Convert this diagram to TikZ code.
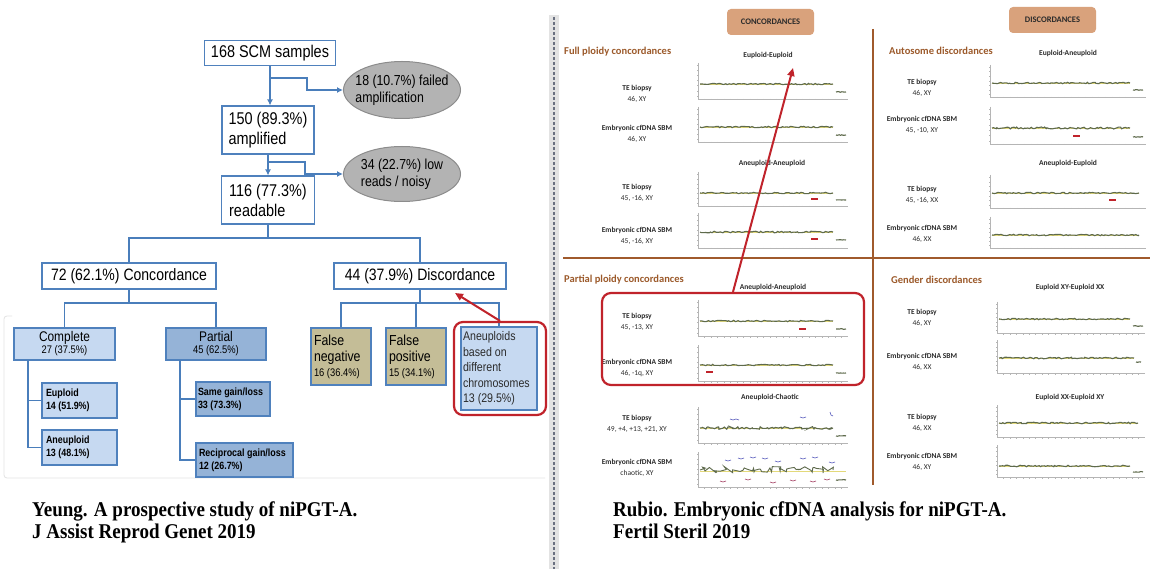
\documentclass[tikz,border=0pt]{standalone}
\usepackage{fontspec}
\usepackage{graphicx}
\setmainfont[FakeStretch=0.85]{Liberation Sans}
\newfontfamily\carl{Carlito}
\newfontfamily\captfont[FakeStretch=0.905]{Liberation Serif}
\usetikzlibrary{shapes.geometric,arrows.meta,calc,decorations.pathmorphing}
\definecolor{flowblue}{HTML}{4A7EBB}
\definecolor{boxblue}{HTML}{4F81BD}
\definecolor{lightblue}{HTML}{C6D9F1}
\definecolor{midblue}{HTML}{95B3D7}
\definecolor{khaki}{HTML}{C4BD97}
\definecolor{ellgray}{HTML}{B3B3B3}
\definecolor{ellborder}{HTML}{8C8C8C}
\definecolor{redc}{HTML}{C0232B}
\definecolor{brownc}{HTML}{9C5A2B}
\definecolor{divbrown}{HTML}{A05A2C}
\definecolor{badgec}{HTML}{D9A27C}
\definecolor{darktext}{HTML}{2B2B2B}
\definecolor{axisc}{HTML}{B5B5B5}
\definecolor{tracec}{HTML}{5E6A4C}
\definecolor{basec}{HTML}{E3D97A}
\definecolor{bluemark}{HTML}{4B4FB8}
\definecolor{dashc}{HTML}{6A7080}
\newcommand{\fsz}[2]{\fontsize{#1}{#2}\selectfont}
\newcommand{\cnvaxes}[4]{%
  \draw[axisc, line width=0.6pt] (#1,#2) -- (#1,#2+#4) -- (#1+#3,#2+#4);
  \foreach \k in {0,...,6} \draw[axisc, line width=0.4pt] (#1,#2+2+\k*#4/7) -- ++(-1.5,0);
  \foreach \k in {1,...,22} \draw[axisc, line width=0.4pt] (#1+\k*#3/23,#2+#4) -- ++(0,1.5);
}
\newcommand{\cnvtrace}[4]{%
  \draw[basec, line width=0.6pt] (#1,#3) -- (#2,#3);
  \draw[tracec, line width=1.1pt, decorate, decoration={random steps, segment length=1.8pt, amplitude=#4}] (#1,#3) -- (#2,#3);
}
\newcommand{\cnvend}[3]{%
  \draw[tracec, line width=1.1pt, decorate, decoration={random steps, segment length=1.5pt, amplitude=0.4pt}] (#1,#3) -- (#2,#3);
}
\tikzset{
 flowline/.style={draw=flowblue, line width=1.8pt},
 flowarrow/.style={flowline, -{Latex[length=6pt,width=6pt]}},
 wbox/.style={draw=boxblue, line width=1.1pt, fill=white, inner sep=3pt, font=\fsz{17}{20}},
 ellbox/.style={ellipse, draw=ellborder, line width=1pt, fill=ellgray, inner xsep=-6pt, inner ysep=0pt, align=left, font=\fsz{14.5}{17}},
 cbox/.style={draw=boxblue, line width=1.1pt, fill=lightblue, inner sep=2pt},
 pbox/.style={draw=boxblue, line width=1.1pt, fill=midblue, inner sep=2pt},
 kbox/.style={draw=boxblue, line width=1.1pt, fill=khaki, inner sep=3pt},
 redframe/.style={draw=redc, line width=2.2pt, rounded corners=9pt},
 redarrow/.style={draw=redc, line width=2pt, -{Triangle[length=8pt,width=7pt]}},
 badge/.style={fill=badgec, rounded corners=4pt, font={\carl\bfseries\fsz{8.5}{10}}, text=darktext},
 heading/.style={font={\carl\bfseries\fsz{10.5}{12}}, text=brownc, inner sep=0pt},
 subttl/.style={font={\carl\bfseries\fsz{7.5}{9}}, text=darktext, inner sep=0pt},
 samp/.style={font={\carl\fsz{7.5}{11}}, text=darktext, align=center, inner sep=0pt},
 capt/.style={font={\captfont\bfseries\fsz{21}{23}}, inner sep=0pt, text=black},
 lossred/.style={draw=redc, line width=1.6pt},
}
\begin{document}
\pgfmathsetseed{11}
\begin{tikzpicture}[x=1pt,y=-1pt]
\useasboundingbox (0,0) rectangle (1159,569);
\fill[white] (0,0) rectangle (1159,569);

%% ---------------- left flowchart ----------------
\draw[gray!22, line width=0.8pt, rounded corners=3pt] (12,316) -- (4,316) -- (4,478) -- (545,478);

\node[wbox, minimum width=131pt, minimum height=25pt] (n168) at (270,53) {168 SCM samples};
\node[wbox, minimum width=92pt, minimum height=48pt, align=left] (n150) at (268,130) {150 (89.3\%)\\amplified};
\node[wbox, minimum width=93pt, minimum height=48pt, align=left] (n116) at (268,200) {116 (77.3\%)\\readable};
\node[ellbox, minimum width=117pt, minimum height=57pt] (e1) at (402,90) {18 (10.7\%) failed\\amplification};
\node[ellbox, minimum width=117pt, minimum height=55pt] (e2) at (402,174) {34 (22.7\%) low\\reads / noisy};

\draw[flowarrow] (n168.south) -- (n168.south |- n150.north);
\coordinate (b1) at ($(n168.south)!0.31!(n168.south |- n150.north)$);
\draw[flowarrow] (b1) -- ++(37,0) |- (e1.west);
\draw[flowarrow] (n150.south) -- (n150.south |- n116.north);
\coordinate (b2) at ($(n150.south)!0.36!(n150.south |- n116.north)$);
\draw[flowarrow] (b2) -- ++(37,0) |- (e2.west);

\node[wbox, minimum width=174pt, minimum height=26pt, font=\fsz{16.5}{19}] (conc) at (129,276) {72 (62.1\%) Concordance};
\node[wbox, minimum width=172pt, minimum height=26pt, font=\fsz{16.5}{19}] (disc) at (420,276) {44 (37.9\%) Discordance};
\coordinate (j1) at (268,238);
\draw[flowline] (n116.south) -- (j1);
\draw[flowline] (conc.north) |- (j1) -| (disc.north);

\node[cbox, minimum width=101pt, minimum height=32pt, align=center] (comp) at (64.5,344) {\fsz{14}{15}Complete\\\fsz{11}{12}27 (37.5\%)};
\node[pbox, minimum width=100pt, minimum height=32pt, align=center] (part) at (216,344) {\fsz{14}{15}Partial\\\fsz{11}{12}45 (62.5\%)};
\coordinate (j2) at (129,303);
\draw[flowline] (conc.south) -- (j2);
\draw[flowline] (comp.north) |- (j2) -| (part.north);

\node[cbox, minimum width=75pt, minimum height=35pt, text width=67pt, inner sep=4pt, align=flush left, font={\bfseries\fsz{10.5}{13}}] (eup) at (79.5,400.5) {Euploid\\14 (51.9\%)};
\node[cbox, minimum width=75pt, minimum height=35pt, text width=67pt, inner sep=4pt, align=flush left, font={\bfseries\fsz{10.5}{13}}] (aneu) at (79.5,447.5) {Aneuploid\\13 (48.1\%)};
\coordinate (cl) at (28,360);
\draw[flowline] (cl) |- (eup.west);
\draw[flowline] (cl) |- (aneu.west);

\node[pbox, minimum width=74pt, minimum height=34pt, text width=70pt, inner sep=2pt, align=flush left, font={\bfseries\fsz{10.5}{13}}] (same) at (233,399) {Same gain/loss\\33 (73.3\%)};
\node[pbox, minimum width=97pt, minimum height=34pt, text width=91pt, inner sep=3pt, align=flush left, font={\bfseries\fsz{10.5}{13}}] (recip) at (244.5,460) {Reciprocal gain/loss\\12 (26.7\%)};
\coordinate (pl) at (180,360);
\draw[flowline] (pl) |- (same.west);
\draw[flowline] (pl) |- (recip.west);

\node[kbox, minimum width=60pt, minimum height=57pt, text width=54pt, align=flush left, font={\fsz{14.5}{16}}] (fn) at (341,356.5) {False\\negative\\[-1pt]{\fsz{11}{12}16 (36.4\%)}};
\node[kbox, minimum width=60pt, minimum height=57pt, text width=54pt, align=flush left, font={\fsz{14.5}{16}}] (fp) at (416,356.5) {False\\positive\\[-1pt]{\fsz{11}{12}15 (34.1\%)}};
\node[cbox, minimum width=76pt, minimum height=83pt, text width=72pt, align=flush left, font={\fsz{12.5}{15.5}}, text=darktext] (anb) at (499,368.5) {Aneuploids\\based on\\different\\chromosomes\\13 (29.5\%)};
\coordinate (j3) at (420,303);
\draw[flowline] (disc.south) -- (j3);
\draw[flowline] (fn.north) |- (j3) -| (anb.north);
\draw[flowline] (fp.north) -- (fp.north |- j3);

\node[redframe, minimum width=92pt, minimum height=93pt] (rl) at (500,368.5) {};
\coordinate (ra) at (455,293);
\draw[redarrow] (rl.north) -- (ra);

%% ---------------- divider ----------------
\fill[gray!22] (549,15) rectangle (559,569);
\draw[dashc, line width=1.2pt, dash pattern=on 3pt off 2pt] (554,17) -- (554,569);

%% ---------------- right panel ----------------
\draw[divbrown, line width=2pt] (563,258) -- (1150,258);
\draw[divbrown, line width=2pt] (873,29) -- (873,485);

\node[badge, minimum width=87pt, minimum height=26pt] (bconc) at (770.5,22) {CONCORDANCES};
\node[badge, minimum width=87pt, minimum height=26pt] (bdisc) at (1052.5,20) {DISCORDANCES};

\node[heading, anchor=west] (h1) at (564,52) {Full ploidy concordances};
\node[heading, anchor=west] (h2) at (889,51) {Autosome discordances};
\node[heading, anchor=west] (h3) at (564,280) {Partial ploidy concordances};
\node[heading, anchor=west] (h4) at (891,280) {Gender discordances};

\node[subttl] (s1) at (768,55) {Euploid-Euploid};
\node[subttl] (s2) at (772,163) {Aneuploid-Aneuploid};
\node[subttl] (s3) at (1068,53) {Euploid-Aneuploid};
\node[subttl] (s4) at (1068,163) {Aneuploid-Euploid};
\node[subttl] (s5) at (773,287) {Aneuploid-Aneuploid};
\node[subttl] (s6) at (770,397) {Aneuploid-Chaotic};
\node[subttl] (s7) at (1070,287) {Euploid XY-Euploid XX};
\node[subttl] (s8) at (1070,397) {Euploid XX-Euploid XY};

% sample labels, left column
\node[samp] (l1) at (637,94) {\textbf{TE biopsy}\\46, XY};
\node[samp] (l2) at (637,134) {\textbf{Embryonic cfDNA SBM}\\46, XY};
\node[samp] (l3) at (637,193) {\textbf{TE biopsy}\\45, -16, XY};
\node[samp] (l4) at (637,236) {\textbf{Embryonic cfDNA SBM}\\45, -16, XY};
\node[samp] (l5) at (637,322) {\textbf{TE biopsy}\\45, -13, XY};
\node[samp] (l6) at (637,368) {\textbf{Embryonic cfDNA SBM}\\46, -1q, XY};
\node[samp] (l7) at (637,424) {\textbf{TE biopsy}\\49, +4, +13, +21, XY};
\node[samp] (l8) at (637,468) {\textbf{Embryonic cfDNA SBM}\\chaotic, XY};
% sample labels, right column
\node[samp] (r1) at (922,88) {\textbf{TE biopsy}\\46, XY};
\node[samp] (r2) at (922,125) {\textbf{Embryonic cfDNA SBM}\\45, -10, XY};
\node[samp] (r3) at (922,195) {\textbf{TE biopsy}\\45, -16, XX};
\node[samp] (r4) at (922,234) {\textbf{Embryonic cfDNA SBM}\\46, XX};
\node[samp] (r5) at (922,318) {\textbf{TE biopsy}\\46, XY};
\node[samp] (r6) at (922,362) {\textbf{Embryonic cfDNA SBM}\\46, XX};
\node[samp] (r7) at (922,423) {\textbf{TE biopsy}\\46, XX};
\node[samp] (r8) at (922,462) {\textbf{Embryonic cfDNA SBM}\\46, XY};

% charts: full ploidy
\cnvaxes{698}{63}{150}{36}
\cnvtrace{700}{833}{84}{0.7pt}
\cnvend{836}{846}{92}
\cnvaxes{698}{107}{150}{35}
\cnvtrace{700}{833}{127}{0.7pt}
\cnvend{836}{846}{135}
\cnvaxes{698}{172}{150}{34}
\cnvtrace{700}{833}{193}{0.7pt}
\draw[lossred] (811,199) -- ++(7,0);
\cnvend{836}{846}{200}
\cnvaxes{698}{213}{150}{35}
\cnvtrace{700}{833}{232}{0.8pt}
\draw[lossred] (811,239) -- ++(7,0);
\cnvend{836}{846}{240}
% charts: partial ploidy
\cnvaxes{698}{300}{150}{36}
\cnvtrace{700}{833}{321}{0.7pt}
\draw[lossred] (799,329) -- ++(7,0);
\cnvend{836}{846}{329}
\cnvaxes{698}{345}{150}{36}
\cnvtrace{700}{833}{365}{0.7pt}
\draw[lossred] (706,372) -- ++(7,0);
\cnvend{836}{846}{373}
\cnvaxes{698}{407}{150}{36}
\cnvtrace{700}{833}{428}{1.3pt}
\cnvend{836}{846}{436}
\draw[bluemark, line width=0.6pt] (730,419) -- ++(3,1) -- ++(3,-1) -- ++(3,1);
\draw[bluemark, line width=0.6pt] (800,417) -- ++(3,1) -- ++(3,-1);
\draw[bluemark, line width=0.6pt] (830,412) -- ++(1,3) -- ++(2,1);
\cnvaxes{698}{452}{150}{35}
\draw[basec, line width=1pt] (700,471) -- (846,471);
\draw[tracec, line width=0.9pt, decorate, decoration={random steps, segment length=2.5pt, amplitude=3.5pt}] (700,470) -- (833,470);
\foreach \bx/\by in {725/460,738/458,750/457,762/458,775/461,800/458,812/457,829/462}
  \draw[bluemark, line width=0.6pt] (\bx,\by) -- ++(3,1) -- ++(3,-1);
\foreach \bx/\by in {720/481,745/479,770/482,790/480,810/481,824/479}
  \draw[redc!70!bluemark, line width=0.6pt] (\bx,\by) -- ++(3,1) -- ++(3,-1);
\cnvend{836}{846}{480}
% charts: autosome discordances
\cnvaxes{990}{65}{156}{32}
\cnvtrace{992}{1130}{83}{0.7pt}
\cnvend{1133}{1143}{90}
\cnvaxes{990}{107}{156}{37}
\cnvtrace{992}{1130}{128}{1pt}
\draw[lossred] (1073,136) -- ++(7,0);
\cnvend{1133}{1143}{137}
\cnvaxes{990}{175}{156}{33}
\cnvtrace{992}{1139}{193}{0.7pt}
\draw[lossred] (1109,200) -- ++(7,0);
\cnvaxes{990}{217}{156}{31}
\cnvtrace{992}{1139}{235}{0.7pt}
% charts: gender discordances
\cnvaxes{997}{302}{148}{31}
\cnvtrace{999}{1130}{319}{0.7pt}
\cnvend{1133}{1143}{326}
\cnvaxes{997}{340}{148}{33}
\cnvtrace{999}{1134}{358}{0.8pt}
\cnvend{1136}{1141}{362}
\cnvaxes{997}{405}{148}{32}
\cnvtrace{999}{1138}{423}{0.8pt}
\cnvaxes{997}{445}{148}{32}
\cnvtrace{999}{1130}{466}{0.8pt}
\cnvend{1133}{1143}{472}

% red frame + arrow on right
\node[redframe, minimum width=262pt, minimum height=92pt] (rr) at (733,339) {};
\coordinate (rt) at (793,68);
\draw[redarrow] (rr.north) -- (rt);

%% ---------------- captions ----------------
\node[capt, anchor=base west] (c1a) at (32,516) {Yeung. A prospective study of niPGT-A.};
\node[capt, anchor=base west] (c1b) at (32,538) {J Assist Reprod Genet 2019};
\node[capt, anchor=base west] (c2a) at (613,516) {Rubio. Embryonic cfDNA analysis for niPGT-A.};
\node[capt, anchor=base west] (c2b) at (613,538) {Fertil Steril 2019};
\end{tikzpicture}
\end{document}
